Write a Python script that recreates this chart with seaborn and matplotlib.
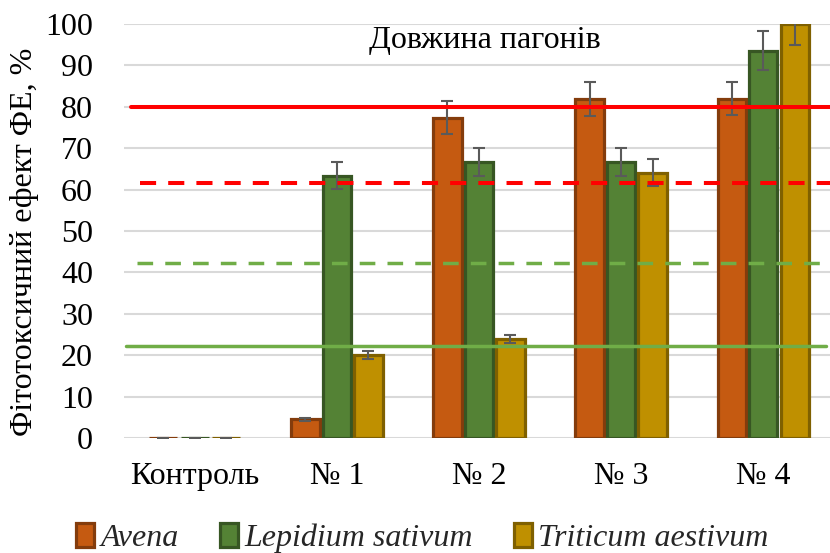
import matplotlib
matplotlib.use("Agg")
import matplotlib.pyplot as plt
from matplotlib.patches import Patch
import seaborn as sns
import pandas as pd

# Phytotoxic effect of shoot length by treatment and test culture
categories = ["Контроль", "№ 1", "№ 2", "№ 3", "№ 4"]
species = ["Avena", "Lepidium sativum", "Triticum aestivum"]
avena = [0, 4.5, 77.4, 81.9, 81.9]
lepidium = [0, 63.4, 66.7, 66.7, 93.5]
triticum = [0, 20.0, 23.9, 64.1, 100.0]
avena_err = [0, 0.3, 3.9, 4.1, 4.0]
lepidium_err = [0, 3.2, 3.3, 3.3, 4.7]
triticum_err = [0, 1.0, 1.0, 3.2, 5.1]

# Reference threshold levels
red_solid = 80.0
red_dashed = 61.6
green_dashed = 42.3
green_solid = 22.2

fills = ["#C55A11", "#548235", "#BF9000"]
edges = ["#843C0C", "#375623", "#7F6000"]

values = [avena, lepidium, triticum]
errors = [avena_err, lepidium_err, triticum_err]
df = pd.DataFrame({
    "cat": [c for _ in species for c in categories],
    "sp": [s for s in species for _ in categories],
    "val": [v for vals in values for v in vals],
})

sns.set_theme(style="white")
plt.rcParams["font.family"] = "serif"
plt.rcParams["font.serif"] = ["Liberation Serif", "DejaVu Serif"]
SERIF = "Liberation Serif"
FS = 23

fig = plt.figure(figsize=(8.3, 5.53), dpi=100)
ax = fig.add_axes([0.149, 0.208, 0.851, 0.7486])

sns.barplot(data=df, x="cat", y="val", hue="sp", order=categories,
            hue_order=species, palette=fills, saturation=1, width=0.665, gap=0.1,
            errorbar=None, legend=False, ax=ax, zorder=3)

for cont, edge, errs in zip(ax.containers, edges, errors):
    xs = []
    hs = []
    for bar in cont:
        bar.set_edgecolor(edge)
        bar.set_linewidth(2.3)
        xs.append(bar.get_x() + bar.get_width() / 2)
        hs.append(bar.get_height())
    ax.errorbar(xs, hs, yerr=errs, fmt="none", ecolor="#5A5A5A",
                elinewidth=1.5, capsize=4.3, capthick=1.5, zorder=4,
                clip_on=True)

ax.set_ylim(0, 100)
ax.set_xlim(-0.5, 4.47)
ax.set_yticks(range(0, 101, 10))
ax.yaxis.grid(True, color="#D9D9D9", linewidth=1.5, zorder=0)
ax.xaxis.grid(False)
for s in ax.spines.values():
    s.set_visible(False)

ax.axhline(red_solid, xmin=0.01, xmax=1.0, color="#FF0000", linewidth=2.9, zorder=5)
ax.axhline(red_dashed, xmin=0.023, xmax=1.0, color="#FF0000", linewidth=2.9,
           dashes=(4.0, 3.0), zorder=5)
ax.axhline(green_dashed, xmin=0.019, xmax=1.0, color="#70AD47", linewidth=2.5,
           dashes=(4.5, 3.5), zorder=5)
ax.axhline(green_solid, xmin=0.004, xmax=0.994, color="#70AD47", linewidth=2.5,
           zorder=5)

ax.text(2.04, 96.0, "Довжина пагонів", ha="center", va="center",
        fontsize=FS, color="black", family=SERIF, zorder=6)

ax.tick_params(axis="y", length=0, pad=22, labelsize=FS, labelcolor="black")
ax.tick_params(axis="x", length=0, pad=17, labelsize=FS, labelcolor="black")
for lab in ax.get_xticklabels() + ax.get_yticklabels():
    lab.set_family(SERIF)
ax.set_xlabel("")
ax.set_ylabel("Фітотоксичний ефект ФЕ, %", fontsize=FS,
              color="black", family=SERIF)
ax.yaxis.set_label_coords(-0.12, 0.473)

handles = [Patch(facecolor=f, edgecolor=e, linewidth=2.3) for f, e in zip(fills, edges)]
fig.legend(handles, species, loc="center", bbox_to_anchor=(0.509, 0.027), ncol=3,
           frameon=False, prop={"family": SERIF, "style": "italic", "size": FS},
           handlelength=0.55, handleheight=0.75, handletextpad=0.2, columnspacing=1.3)

fig.savefig("out.png", dpi=100)
